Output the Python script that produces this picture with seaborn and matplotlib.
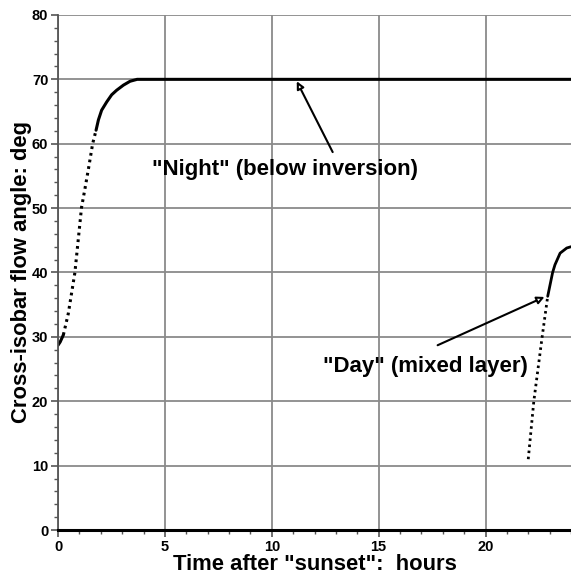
import matplotlib
matplotlib.use('Agg')
import matplotlib.pyplot as plt
from matplotlib.ticker import MultipleLocator
import pandas as pd
import seaborn as sns

# values
night_t = [0, 0.1, 0.25, 0.48, 0.79, 1.1, 1.26, 1.45, 1.62, 1.78, 1.89, 2.04,
           2.28, 2.51, 2.74, 3.06, 3.37, 3.7, 4.0, 24]
night_angle = [28.7, 29.2, 30.3, 33.6, 40.0, 50.1, 53.0, 56.6, 60.0, 62.1, 63.7,
               65.2, 66.5, 67.6, 68.3, 69.1, 69.7, 70.0, 70.0, 70.0]

day_t = [22.0, 22.26, 22.65, 22.91, 23.14, 23.25, 23.49, 23.8, 24.0]
day_angle = [11.0, 20.0, 30.0, 36.3, 40.0, 41.2, 43.0, 43.8, 44.0]

night_label = '"Night" (below inversion)'
day_label = '"Day" (mixed layer)'
x_label = 'Time after "sunset":  hours'
y_label = 'Cross-isobar flow angle: deg'

sns.set_style('white')
plt.rcParams['font.family'] = ['Liberation Sans', 'DejaVu Sans']
plt.rcParams['font.weight'] = 'bold'
plt.rcParams['text.color'] = 'black'
plt.rcParams['axes.labelcolor'] = 'black'
plt.rcParams['xtick.color'] = 'black'
plt.rcParams['ytick.color'] = 'black'

night = pd.DataFrame({'t': night_t, 'angle': night_angle})
day = pd.DataFrame({'t': day_t, 'angle': day_angle})

fig = plt.figure(figsize=(5.71, 5.80), dpi=100)
ax = fig.add_axes([0.1016, 0.0862, 0.8984, 0.888])

dots = (0.9, 1.3)
# slow parts drawn solid, steep parts dotted (points spaced in time)
sns.lineplot(data=night.iloc[:3], x='t', y='angle', ax=ax, color='black', lw=2.2)
sns.lineplot(data=night.iloc[2:10], x='t', y='angle', ax=ax, color='black',
             lw=2.2, linestyle=(0, dots))
sns.lineplot(data=night.iloc[9:], x='t', y='angle', ax=ax, color='black', lw=2.2)
sns.lineplot(data=day.iloc[:4], x='t', y='angle', ax=ax, color='black',
             lw=2.0, linestyle=(0, dots))
sns.lineplot(data=day.iloc[3:], x='t', y='angle', ax=ax, color='black', lw=2.0)

ax.set_xlim(0, 24)
ax.set_ylim(0, 80)
ax.xaxis.set_major_locator(MultipleLocator(5))
ax.xaxis.set_minor_locator(MultipleLocator(1))
ax.yaxis.set_major_locator(MultipleLocator(10))
ax.yaxis.set_minor_locator(MultipleLocator(2))
ax.grid(True, which='major', color='#8a8a8a', lw=1.3)
ax.set_axisbelow(True)

for s in ['top', 'right']:
    ax.spines[s].set_visible(False)
ax.spines['left'].set_color('#555555')
ax.spines['left'].set_linewidth(1.3)
ax.spines['bottom'].set_color('black')
ax.spines['bottom'].set_linewidth(2.2)
ax.tick_params(which='major', direction='out', length=5, width=1.2,
               labelsize=10.5, color='#555555', labelcolor='black', pad=2)
ax.tick_params(which='minor', direction='out', length=3, width=1.0, color='#555555')
ax.tick_params(axis='x', which='both', bottom=True)
ax.tick_params(axis='y', which='both', left=True)
for lab in ax.get_xticklabels() + ax.get_yticklabels():
    lab.set_fontweight('bold')

ax.set_xlabel(x_label, fontsize=15.8, fontweight='bold', labelpad=0)
ax.set_ylabel(y_label, fontsize=15.8, fontweight='bold', labelpad=0)

arrow = dict(arrowstyle='-|>', fc='white', ec='black', lw=1.5, mutation_scale=11,
             shrinkA=0, shrinkB=0)
ax.annotate('', xy=(11.17, 69.7), xytext=(12.85, 58.7), arrowprops=arrow)
ax.annotate('', xy=(22.76, 36.2), xytext=(17.76, 28.7), arrowprops=arrow)
ax.text(10.62, 55.1, night_label, fontsize=16, fontweight='bold',
        ha='center', va='baseline')
ax.text(17.17, 24.6, day_label, fontsize=16, fontweight='bold',
        ha='center', va='baseline')

fig.savefig('out.png', dpi=100)
